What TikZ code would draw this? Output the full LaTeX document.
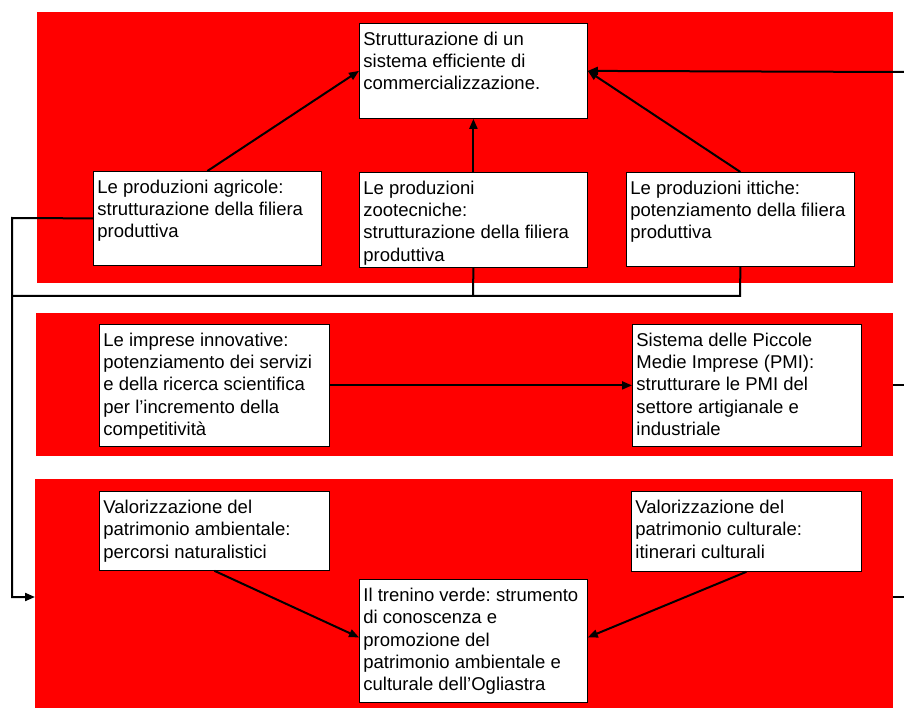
\documentclass[tikz,border=0pt]{standalone}
\usepackage{fontspec}
\setmainfont{Liberation Sans}
\usetikzlibrary{arrows.meta}
\frenchspacing
\definecolor{bandred}{RGB}{255,0,0}
\newcommand{\bxt}[3]{\parbox[t][#2][t]{#1}{\frenchspacing\raggedright\leftskip=4pt\relax\rule{0pt}{22pt}#3}}
\tikzset{
  band/.style={fill=bandred, draw=none, inner sep=0pt, anchor=north west},
  box/.style={draw=black, fill=white, line width=0.8pt, inner sep=0pt, anchor=north west,
    font=\fontsize{18.5}{22.3}\selectfont},
  conn/.style={draw=black, line width=2pt},
  arr/.style={conn, -{Triangle[length=10pt,width=8pt]}}
}
\begin{document}
\begin{tikzpicture}[x=1pt,y=-1pt]
\useasboundingbox (0,0) rectangle (904,708);
% bands
\node[band, minimum width=856pt, minimum height=271pt] (b1) at (37,12) {};
\node[band, minimum width=857pt, minimum height=143pt] (b2) at (36,313) {};
\node[band, minimum width=858pt, minimum height=229pt] (b3) at (35,479) {};
% boxes
\node[box] (top) at (359,23) {\bxt{228pt}{95pt}{Strutturazione di un\\sistema efficiente di\\commercializzazione.}};
\node[box] (agr) at (93,171) {\bxt{228pt}{94pt}{Le produzioni agricole:\\strutturazione della filiera\\produttiva}};
\node[box] (zoo) at (359,172) {\bxt{228pt}{95pt}{Le produzioni\\zootecniche:\\strutturazione della filiera\\produttiva}};
\node[box] (itt) at (626,172) {\bxt{228pt}{94pt}{Le produzioni ittiche:\\potenziamento della filiera\\produttiva}};
\node[box] (imp) at (99,324) {\bxt{230pt}{122pt}{Le imprese innovative:\\potenziamento dei servizi\\e della ricerca scientifica\\per l’incremento della\\competitività}};
\node[box] (pmi) at (632,324) {\bxt{229pt}{122pt}{Sistema delle Piccole\\Medie Imprese (PMI):\\strutturare le PMI del\\settore artigianale e\\industriale}};
\node[box] (amb) at (99,491) {\bxt{230pt}{79pt}{Valorizzazione del\\patrimonio ambientale:\\percorsi naturalistici}};
\node[box] (cul) at (631,491) {\bxt{230pt}{80pt}{Valorizzazione del\\patrimonio culturale:\\itinerari culturali}};
\node[box] (tre) at (359,579) {\bxt{228pt}{123pt}{Il trenino verde: strumento\\di conoscenza e\\promozione del\\patrimonio ambientale e\\culturale dell’Ogliastra}};
% coordinates
\coordinate (inR) at (904,72);
\coordinate (leftTop) at (12,218);
\coordinate (leftBot) at (12,597);
\coordinate (join) at (473,296);
\coordinate (ittDown) at (740,296);
\coordinate (rowL) at (12,296);
\coordinate (out2) at (904,385);
\coordinate (out3) at (904,597);
% connectors
\draw[arr] (agr.north) -- (top.west);
\draw[arr] (zoo.north) -- (top.south);
\draw[arr] (itt.north) -- (top.east);
\draw[arr] (inR) -- (top.east);
\draw[arr] (agr.west) -- (leftTop) -- (leftBot) -- (b3.west |- leftBot);
\draw[conn] (itt.south) -- (ittDown) -- (rowL);
\draw[conn] (zoo.south) -- (join);
\draw[arr] (imp.east) -- (pmi.west);
\draw[conn] (b2.east |- out2) -- (out2);
\draw[conn] (b3.east |- out3) -- (out3);
\draw[arr] (amb.south) -- ([yshift=3.5pt]tre.west);
\draw[arr] (cul.south) -- ([yshift=3.5pt]tre.east);
\end{tikzpicture}
\end{document}
